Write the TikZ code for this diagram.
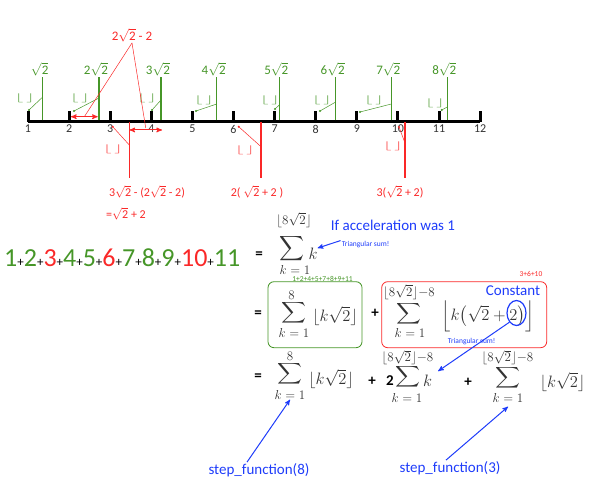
\documentclass[tikz,border=0pt]{standalone}
\usepackage{fix-cm}
\usepackage{exscale}
\usepackage{fontspec}
\setmainfont{Carlito}
\usetikzlibrary{arrows,positioning,calc,shapes.geometric}

\definecolor{stepgreen}{RGB}{70,150,40}
\definecolor{jumpred}{RGB}{250,40,40}
\definecolor{noteblue}{RGB}{30,60,250}

\newcommand{\gterm}[1]{{\color{stepgreen}\fontsize{26}{28}\selectfont #1}}
\newcommand{\rterm}[1]{{\color{jumpred}\fontsize{26}{28}\selectfont #1}}
\newcommand{\pterm}{{\fontsize{13}{14}\selectfont +}}
\newcommand{\rtwo}{\sqrt{\mbox{2}}}
\newcommand{\flr}{\scalebox{1.5}[0.75]{$\lfloor\,\rfloor$}}
\newcommand{\bigsig}[1][0.85]{\scalebox{1}[#1]{$\displaystyle\sum$}}

\tikzset{
>=stealth',
  axis/.style={line width=3pt},
  tickmark/.style={line width=3pt},
  ticklabel/.style={font=\fontsize{12}{14}\selectfont, text=black!80, inner sep=1pt},
  kline/.style={draw=stepgreen, line width=1.4pt},
  klabel/.style={text=stepgreen, font=\fontsize{13}{15}\selectfont, inner sep=1pt},
  floorlabel/.style={font=\fontsize{12}{14}\selectfont, inner sep=0pt},
  leader/.style={line width=.5pt},
  jumpline/.style={draw=jumpred, line width=1.4pt},
  redtext/.style={text=jumpred, font=\fontsize{12}{14}\selectfont, inner sep=1pt},
  gap/.style={<->, draw=jumpred, line width=1pt},
  note/.style={text=noteblue, font=\fontsize{15}{17}\selectfont, inner sep=1pt},
  tinynote/.style={font=\fontsize{7.5}{9}\selectfont, inner sep=1pt},
  pointer/.style={->, draw=noteblue, line width=1pt},
  sumbox/.style={rounded corners=6pt, line width=.8pt, minimum width=94pt, minimum height=66pt},
  sigma/.style={font=\fontsize{19}{22}\selectfont, text=black!80, inner sep=0pt},
  limit/.style={font=\fontsize{13}{15}\selectfont, text=black!80, inner sep=0pt},
  body/.style={font=\fontsize{16.5}{19}\selectfont, text=black!80, inner sep=0pt},
  opsign/.style={font=\fontsize{15}{17}\selectfont\bfseries, inner sep=1pt},
}

\begin{document}
\begin{tikzpicture}[x=1pt, y=-1pt]
  \useasboundingbox (0,0) rectangle (600,489);
  %% the number line
  \foreach \i in {1,...,12}
    \coordinate (t\i) at ({28+(\i-1)*41.1},122);
  \draw[axis] (t1) -- (t12);
  \foreach \i in {1,...,12} {
    \draw[tickmark] (t\i) -- ++(0,-11);
    \node[ticklabel, below=2pt of t\i] (n\i) {\i};
  }
  %% the green steps k*sqrt(2)
  \foreach \k/\x in {1/42.7,2/99,3/161,4/216.7,5/279.3,6/335.7,7/391.3,8/447.3} {
    \coordinate (kb\k) at (\x,120.5);
    \coordinate (kt\k) at (\x,77);
    \draw[kline] (kb\k) -- (kt\k);
    \node[klabel, anchor=south, xshift=-3pt] (kl\k) at (kt\k) {\ifnum\k=1 \else\k\fi$\rtwo$};
  }
  \foreach \k/\lx/\ly/\ay/\dx/\dy in {1/25/98/97/29/110, 2/80/98/98/74/111,
      3/147/98/100/152/110, 4/204/100/104/196/111, 5/270/100/105/275/109,
      6/322/100/102/320/111, 7/374/100/104/360/112, 8/435/103/107/441.7/110} {
    \node[floorlabel, text=stepgreen] (fl\k) at (\lx,\ly) {\flr};
    \coordinate (fd\k) at (\dx,\dy);
    \fill[stepgreen] (fd\k) circle (1.1);
    \draw[leader, stepgreen] (kb\k |- 0,\ay) -- (fd\k);
  }
  %% the red jumps
  \foreach \j/\x/\lx/\ly/\dx/\dy/\ey in {3/129.3/113/149/112.7/126.7/145,
      6/261/245/150/238.7/126.7/146.7, 10/405/393/146/399/127/143} {
    \coordinate (rt\j) at (\x,122);
    \coordinate (rb\j) at (\x,178);
    \draw[jumpline] (rt\j) -- (rb\j);
    \node[floorlabel, text=jumpred] (rl\j) at (\lx,\ly) {\flr};
    \coordinate (rd\j) at (\dx,\dy);
    \fill[jumpred] (rd\j) circle (1.1);
    \draw[leader, jumpred] (rd\j) -- (rt\j |- 0,\ey);
  }
  \node[redtext] (jumpthree) at (147,192) {3$\rtwo$ - (2$\rtwo$ - 2)};
  \node[redtext] (jumpthreeb) at (126,214) {=$\rtwo$ + 2};
  \node[redtext] (jumpsix) at (257,192) {2( $\rtwo$ + 2 )};
  \node[redtext] (jumpten) at (400,192) {3($\rtwo$ + 2)};
  % the gap between 2 and 2sqrt(2)
  \coordinate (ga) at (71,116.7);
  \coordinate (gb) at (97.7,116.7);
  \coordinate (gc) at (129.5,130);
  \coordinate (gd) at (162,130);
  \draw[gap] (ga) -- (gb);
  \draw[gap] (gc) -- (gd);
  \node[redtext, font=\fontsize{13}{15}\selectfont] (gaplabel) at (132,35) {2$\rtwo$ - 2};
  \draw[leader, jumpred] (gaplabel.south) -- ($(ga)!.5!(gb)$);
  \draw[leader, jumpred] (gaplabel.south) -- ($(gc)!.5!(gd)+(0,-2)$);

  %% No. 1: the sum
  \node[anchor=west, inner sep=0pt] (series) at (4,258) {\gterm{1}\pterm\gterm{2}\pterm\rterm{3}\pterm\gterm{4}\pterm\gterm{5}\pterm\rterm{6}\pterm\gterm{7}\pterm\gterm{8}\pterm\gterm{9}\pterm\rterm{10}\pterm\gterm{11}};
  \node[opsign] (eqone) at (259,255) {=};
  \node[sigma] (s1) at (291.5,249) {\bigsig[1]};
  \node[limit] (up1) at (294,220) {$\lfloor 8\sqrt{2}\rfloor$};
  \node[limit] (lo1) at (295,270) {$k\;{=}\;1$};
  \node[body] (k1) at (313,254) {$k$};
  \node[note] (accel) at (393,225) {If acceleration was 1};
  \node[tinynote, text=noteblue] (tri1) at (365.5,245) {Triangular sum!};
  \draw[pointer] (tri1.north west) -- (k1.north east);

  %% No. 2: split into green and red steps
  \node[opsign] (eqtwo) at (258,314) {=};
  \node[sumbox, draw=stepgreen] (greenbox) at (315,314.7) {};
  \node[sigma] (s2a) at (293.5,313) {\bigsig};
  \node[limit] (up2a) at (291.5,295) {$8$};
  \node[limit] (lo2a) at (294,333) {$k\;{=}\;1$};
  \node[body] (body2a) at (335,316) {$\lfloor k\sqrt{2}\rfloor$};
  \node[tinynote, text=stepgreen] (greensteps) at (322.5,278.5) {1+2+4+5+7+8+9+11};
  \node[opsign] (plusa) at (375,313) {+};
  \node[sumbox, draw=jumpred, minimum width=165pt] (redbox) at (464.2,314.7) {};
  \node[sigma] (s2b) at (409,314) {\bigsig};
  \node[limit] (up2b) at (409,292) {$\lfloor 8\sqrt{2}\rfloor{-}8$};
  \node[limit] (lo2b) at (410,333) {$k\;{=}\;1$};
  \node[body] (body2b) at (488,316) {$\Big\lfloor k\big(\sqrt{2}+2\big)\Big\rfloor$};
  \node[tinynote, text=jumpred] (redsteps) at (531,274) {3+6+10};
  \node[note] (constant) at (513,290.7) {Constant};
  \node[ellipse, draw=noteblue, line width=1.2pt, minimum width=19pt, minimum height=25pt, inner sep=0pt] (constcirc) at (516.5,313) {};
  \node[tinynote, text=noteblue] (tri2) at (471.7,341.7) {Triangular sum!};

  %% No. 3
  \node[opsign] (eqthree) at (258,377) {=};
  \node[sigma] (s3a) at (289.5,374) {\bigsig};
  \node[limit] (up3a) at (290,356) {$8$};
  \node[limit] (lo3a) at (290,395) {$k\;{=}\;1$};
  \node[body] (body3a) at (331,379) {$\lfloor k\sqrt{2}\rfloor$};
  \node[opsign] (plusb) at (372,381) {+};
  \node[opsign] (two3b) at (390,381) {2};
  \node[sigma] (s3b) at (407.5,377) {\bigsig};
  \node[limit] (up3b) at (407.5,357.5) {$\lfloor 8\sqrt{2}\rfloor{-}8$};
  \node[limit] (lo3b) at (407,398) {$k\;{=}\;1$};
  \node[body] (k3b) at (427.5,381) {$k$};
  \node[opsign] (plusc) at (468,382) {+};
  \node[sigma] (s3c) at (507.5,377.5) {\bigsig};
  \node[limit] (up3c) at (507.5,357.5) {$\lfloor 8\sqrt{2}\rfloor{-}8$};
  \node[limit] (lo3c) at (508,398) {$k\;{=}\;1$};
  \node[body] (body3c) at (562.5,382) {$\lfloor k\sqrt{2}\rfloor$};
  \draw[pointer] (constcirc.south west) -- ([xshift=6pt,yshift=4pt]k3b.north east);

  \node[note] (stepeight) at (259,470) {step\_function(8)};
  \node[note] (stepthree) at (450,468) {step\_function(3)};
  \draw[pointer] ([xshift=-12pt]stepeight.north) -- (lo3a.south);
  \draw[pointer] ([xshift=-4pt]stepthree.north) -- ([yshift=-4pt]lo3c.south);
\end{tikzpicture}
\end{document}
